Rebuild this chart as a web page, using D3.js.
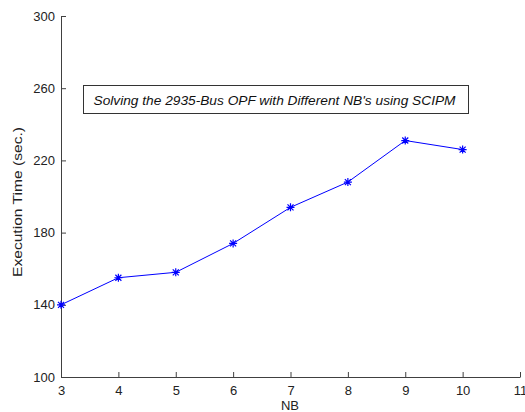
<!DOCTYPE html>
<html>
<head>
<meta charset="utf-8">
<script src="https://cdn.jsdelivr.net/npm/d3@7"></script>
<style>
  html, body { margin: 0; padding: 0; background: #fff; }
  svg { display: block; font-family: "Liberation Sans", Arial, sans-serif; }
</style>
</head>
<body>
<svg id="chart" width="525" height="412"></svg>
<script>
// Number of blocks tried and the measured run time for each
const nbValues = [3, 4, 5, 6, 7, 8, 9, 10];
const execTimes = [140, 155, 158, 174, 194, 208, 231, 226];
const xTicks = [3, 4, 5, 6, 7, 8, 9, 10, 11];
const yTicks = [100, 140, 180, 220, 260, 300];
const titleText = "Solving the 2935-Bus OPF with Different NB's using SCIPM";

const svg = d3.select("#chart");
const plotLeft = 61, plotRight = 520, plotTop = 16, plotBottom = 377;

const x = d3.scaleLinear().domain([3, 11]).range([plotLeft, plotRight]);
const y = d3.scaleLinear().domain([100, 300]).range([plotBottom, plotTop]);

const axisColor = "#404040";
const textColor = "#222";

// x axis with inward ticks
const gx = svg.append("g").attr("transform", `translate(0,${plotBottom})`)
  .call(d3.axisBottom(x).tickValues(xTicks).tickFormat(d3.format("d")).tickSizeInner(-5).tickSizeOuter(0).tickPadding(9));
gx.select(".domain").attr("stroke", axisColor);
gx.selectAll(".tick line").attr("stroke", axisColor);
gx.selectAll(".tick text").attr("font-size", 13).attr("fill", textColor);

// y axis with inward ticks
const gy = svg.append("g").attr("transform", `translate(${plotLeft},0)`)
  .call(d3.axisLeft(y).tickValues(yTicks).tickFormat(d3.format("d")).tickSizeInner(-5).tickSizeOuter(0).tickPadding(6));
gy.select(".domain").attr("stroke", axisColor);
gy.selectAll(".tick line").attr("stroke", axisColor);
gy.selectAll(".tick text").attr("font-size", 13).attr("fill", textColor);

// axis titles
svg.append("text").attr("x", 290).attr("y", 410)
  .attr("text-anchor", "middle").attr("font-size", 13).attr("fill", textColor).text("NB");
svg.append("text").attr("transform", "translate(22,202) rotate(-90)")
  .attr("text-anchor", "middle").attr("font-size", 13)
  .attr("textLength", 150).attr("lengthAdjust", "spacingAndGlyphs")
  .attr("fill", textColor).text("Execution Time (sec.)");

// annotation box
const box = svg.append("g");
box.append("rect").attr("x", 83.5).attr("y", 85.5).attr("width", 385).attr("height", 28)
  .attr("fill", "#fff").attr("stroke", "#333");
box.append("text").attr("x", 274.5).attr("y", 105).attr("text-anchor", "middle")
  .attr("font-size", 13).attr("font-style", "italic")
  .attr("textLength", 362).attr("lengthAdjust", "spacingAndGlyphs")
  .attr("fill", "#111").text(titleText);

// series line
const pts = nbValues.map((d, i) => [d, execTimes[i]]);
svg.append("path").datum(pts)
  .attr("fill", "none").attr("stroke", "#0000ff").attr("stroke-width", 1)
  .attr("d", d3.line().x(d => x(d[0])).y(d => y(d[1])));

// asterisk markers
const star = "M-4,0L4,0M0,-4L0,4M-3,-3L3,3M-3,3L3,-3";
svg.append("g").selectAll("path").data(pts).join("path")
  .attr("transform", d => `translate(${x(d[0])},${y(d[1])})`)
  .attr("d", star).attr("stroke", "#0000ff").attr("stroke-width", 1.2).attr("fill", "none");
</script>
</body>
</html>
